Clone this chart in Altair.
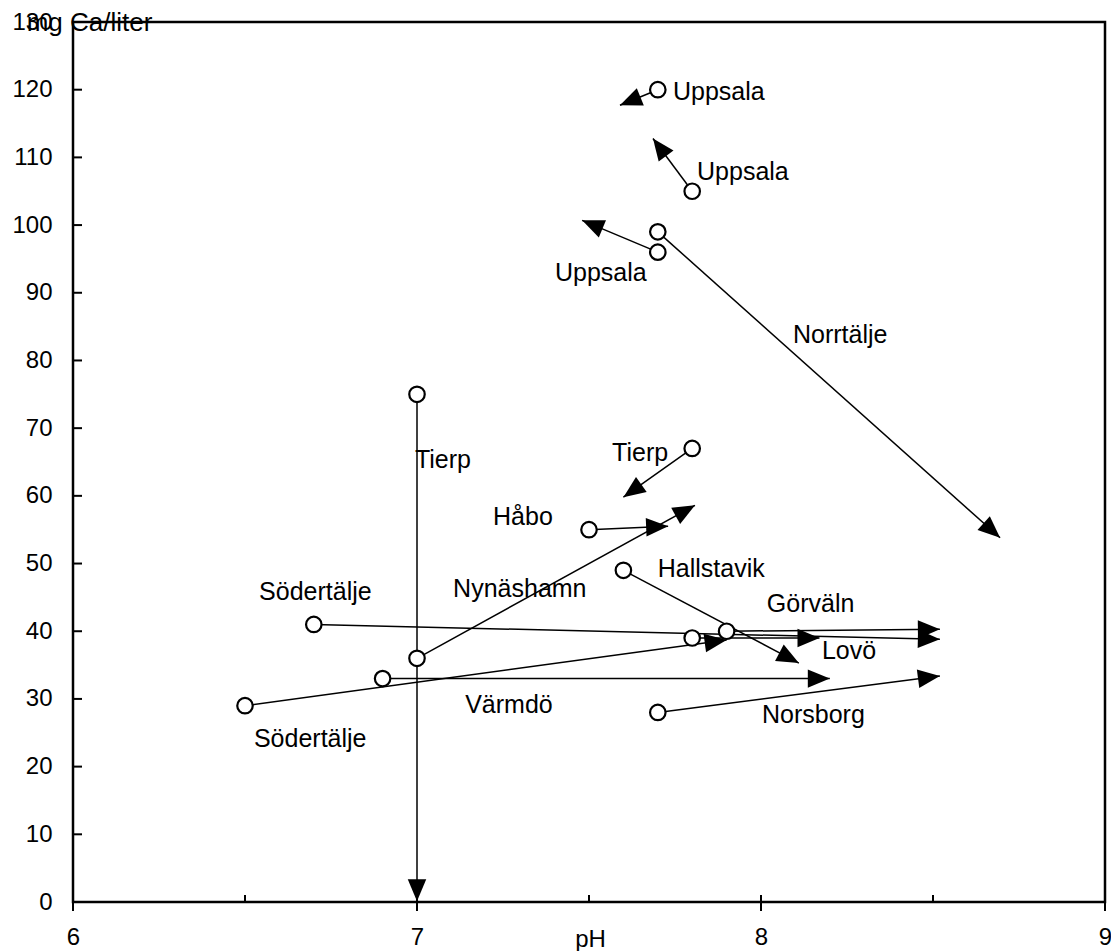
import math
import altair as alt
import pandas as pd

# ---- data ----
labels = ["Uppsala", "Uppsala", "Uppsala", "Norrtälje", "Tierp", "Tierp", "Håbo",
          "Nynäshamn", "Hallstavik", "Görväln", "Lovö", "Södertälje", "Värmdö",
          "Södertälje", "Norsborg"]
ph_start = [7.70, 7.80, 7.70, 7.70, 7.00, 7.80, 7.50, 7.00, 7.60, 7.90, 7.80, 6.70, 6.90, 6.50, 7.70]
ca_start = [120, 105, 96, 99, 75, 67, 55, 36, 49, 40, 39, 41, 33, 29, 28]
ph_end = [7.59, 7.686, 7.48, 8.695, 7.00, 7.60, 7.73, 7.808, 8.11, 8.52, 8.17, 8.52, 8.20, 7.90, 8.52]
ca_end = [117.7, 112.8, 100.7, 53.8, 0.1, 59.8, 55.5, 58.6, 35.3, 40.3, 39.0, 38.8, 33.0, 38.7, 33.4]

# label anchor (data units, text baseline) and alignment
label_x = [7.744, 7.814, 7.401, 8.093, 6.994, 7.730, 7.221, 7.105, 7.700, 8.017, 8.177, 6.541, 7.140, 6.526, 8.003]
label_y = [118.5, 106.6, 91.7, 82.6, 64.1, 65.1, 55.7, 45.0, 48.0, 42.8, 35.9, 44.6, 27.9, 22.9, 26.4]
label_align = ["left", "left", "left", "left", "left", "right", "left", "left", "left",
               "left", "left", "left", "left", "left", "left"]

x_labels = [6, 7, 8, 9]
x_minor = [6.5, 7.5, 8.5]
y_ticks = list(range(0, 131, 10))

W, H = 1032, 880
X_DOM, Y_DOM = [6, 9], [0, 130]
FONT = "Liberation Sans, Arial, sans-serif"

px_per_x = W / (X_DOM[1] - X_DOM[0])
px_per_y = H / (Y_DOM[1] - Y_DOM[0])


def heading(x0, y0, x1, y1):
    sx = (x1 - x0) * px_per_x
    sy = (y1 - y0) * px_per_y
    return math.degrees(math.atan2(sx, sy)) % 360


df = pd.DataFrame({
    "label": labels, "x0": ph_start, "y0": ca_start, "x1": ph_end, "y1": ca_end,
    "lx": label_x, "ly": label_y, "align": label_align,
})
df["angle"] = [heading(a, b, c, d) for a, b, c, d in zip(ph_start, ca_start, ph_end, ca_end)]

xs = alt.Scale(domain=X_DOM, nice=False, zero=False)
ys = alt.Scale(domain=Y_DOM, nice=False, zero=False)

x_axis = alt.Axis(values=x_labels, format="d", ticks=False, domain=False, grid=False,
                  labelFlush=False, labelOverlap=False,
                  labelFontSize=24, labelFont=FONT, labelColor="black", labelPadding=23,
                  title="pH", titleFontSize=24, titleFont=FONT, titleFontWeight="normal",
                  titleColor="black", titleX=517, titleY=44, titleBaseline="alphabetic",
                  titleAlign="center")
y_axis = alt.Axis(values=y_ticks, ticks=False, domain=False, grid=False,
                  labelFlush=False, labelOverlap=False,
                  labelFontSize=24, labelFont=FONT, labelColor="black", labelPadding=21,
                  title="mg Ca/liter", titleFontSize=26, titleFont=FONT,
                  titleFontWeight="normal", titleColor="black", titleAngle=0,
                  titleX=16, titleY=8, titleBaseline="alphabetic", titleAlign="center")

base = alt.Chart(df)

lines = base.mark_rule(color="black", strokeWidth=1.5).encode(
    x=alt.X("x0:Q", scale=xs, axis=x_axis),
    y=alt.Y("y0:Q", scale=ys, axis=y_axis),
    x2="x1:Q", y2="y1:Q",
)

heads = base.mark_point(shape="M0,0L-0.42,1L0.42,1Z", filled=True, color="black",
                        opacity=1, size=1936).encode(
    x=alt.X("x1:Q", scale=xs), y=alt.Y("y1:Q", scale=ys),
    angle=alt.Angle("angle:Q", scale=None),
)

circles = base.mark_point(shape="circle", filled=False, fill="white", fillOpacity=1,
                          stroke="black", strokeWidth=2.2, opacity=1, size=240).encode(
    x=alt.X("x0:Q", scale=xs), y=alt.Y("y0:Q", scale=ys),
)

text_left = base.transform_filter(alt.datum.align == "left").mark_text(
    align="left", baseline="alphabetic", font=FONT, fontSize=25, color="black").encode(
    x=alt.X("lx:Q", scale=xs), y=alt.Y("ly:Q", scale=ys), text="label:N")
text_right = base.transform_filter(alt.datum.align == "right").mark_text(
    align="right", baseline="alphabetic", font=FONT, fontSize=25, color="black").encode(
    x=alt.X("lx:Q", scale=xs), y=alt.Y("ly:Q", scale=ys), text="label:N")

yt = alt.Chart(pd.DataFrame({"v": y_ticks})).mark_rule(color="black", strokeWidth=2).encode(
    y=alt.Y("v:Q", scale=ys), x=alt.value(0), x2=alt.value(9))
xt_major = alt.Chart(pd.DataFrame({"v": x_labels})).mark_rule(color="black", strokeWidth=2).encode(
    x=alt.X("v:Q", scale=xs), y=alt.value(H - 7), y2=alt.value(H + 9))
xt_minor = alt.Chart(pd.DataFrame({"v": x_minor})).mark_rule(color="black", strokeWidth=2).encode(
    x=alt.X("v:Q", scale=xs), y=alt.value(H - 7), y2=alt.value(H))

chart = alt.layer(lines, heads, circles, text_left, text_right, yt, xt_major, xt_minor).properties(
    width=W, height=H,
    autosize=alt.AutoSizeParams(type="none"),
    padding={"left": 73, "top": 22, "right": 6, "bottom": 49},
    background="white",
).configure_view(stroke="black", strokeWidth=2.5)

chart.save("out.html", embed_options={"renderer": "svg", "actions": False})
